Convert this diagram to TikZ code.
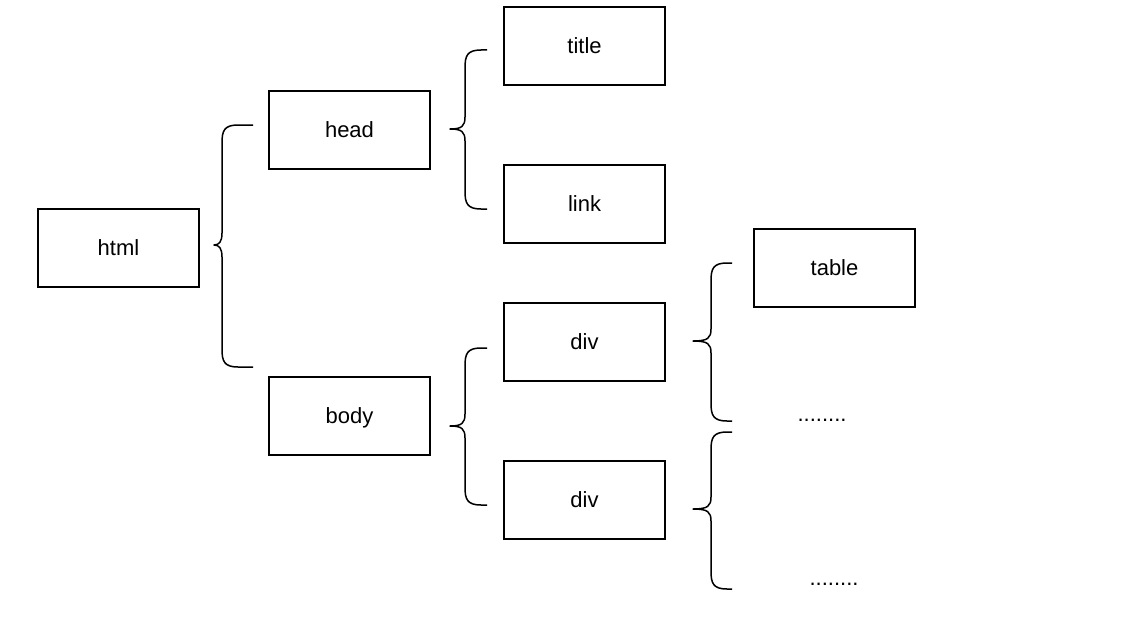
\documentclass[tikz,border=0pt]{standalone}
\usepackage{fontspec}
\setmainfont{Liberation Sans}
\begin{document}
\begin{tikzpicture}[x=1pt,y=-1pt,
  box/.style={draw=black,line width=1.6pt,minimum width=161pt,minimum height=78pt,inner sep=0pt,text depth=0pt,font=\fontsize{22}{26}\selectfont},
  dots/.style={inner sep=0pt,font=\fontsize{22}{26}\selectfont},
  brace/.style={draw=black,line width=1.5pt,line join=round}]
\useasboundingbox[fill=white] (0,0) rectangle (1124,618);
\node[box] (html) at (118.5,248) {html};
\node[box] (head) at (349.5,130) {head};
\node[box] (body) at (349.5,416) {body};
\node[box] (title) at (584.5,46) {title};
\node[box] (link) at (584.5,204) {link};
\node[box] (div1) at (584.5,342) {div};
\node[box] (div2) at (584.5,500) {div};
\node[box] (table) at (834.5,268) {table};
\node[dots] (d1) at (822,420) {........};
\node[dots] (d2) at (834,584) {........};
% brace macro: #1 tip x, #2 vertical x, #3 end x, #4 top y, #5 mid y, #6 bottom y
\newcommand\mybrace[6]{%
  \draw[brace] (#3,#4) -- (#2+16,#4) .. controls (#2+2,#4) and (#2,#4+6) .. (#2,#4+18)
    -- (#2,#5-12) .. controls (#2,#5-3) and (#2-3,#5) .. (#1,#5)
    .. controls (#2-3,#5) and (#2,#5+3) .. (#2,#5+12)
    -- (#2,#6-18) .. controls (#2,#6-6) and (#2+2,#6) .. (#2+16,#6) -- (#3,#6);}
\mybrace{214}{222}{253}{125}{245}{367}
\mybrace{450}{465}{487}{50}{129}{209}
\mybrace{450}{465}{487}{348}{426}{505}
\mybrace{693}{711}{732}{263}{341}{421}
\mybrace{693}{711}{732}{432}{509}{589}
\end{tikzpicture}
\end{document}
